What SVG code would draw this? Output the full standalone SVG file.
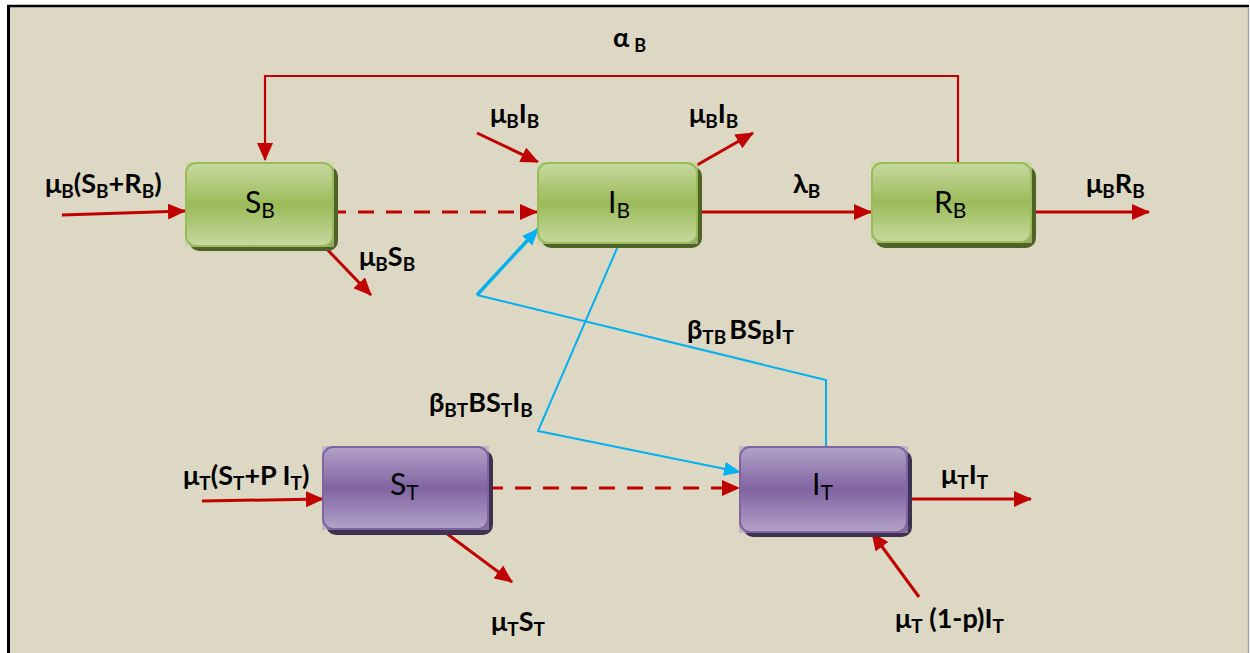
<svg xmlns="http://www.w3.org/2000/svg" width="1250" height="653" viewBox="0 0 1250 653">
<style>
.lbl{font-family:Lato,"Open Sans","Liberation Sans",sans-serif;font-weight:bold;font-size:27px;fill:#000}
.sub{font-size:19px}
.node{font-family:Lato,"Open Sans","Liberation Sans",sans-serif;font-size:30px;fill:#000}
.nsub{font-size:21px}
.red{stroke:#C00000;stroke-width:3;fill:none}
.redthin{stroke:#C00000;stroke-width:2.2;fill:none}
.dash{stroke:#C00000;stroke-width:3;fill:none;stroke-dasharray:16 12}
.blue{stroke:#00B0F0;stroke-width:2;fill:none}
.gbox{fill:url(#gGreen);stroke:#9BBB59;stroke-width:2}
.gsq{fill:url(#gGreen);opacity:0.6}
.gsh{fill:#4F6228}
.pbox{fill:url(#gPurple);stroke:#8064A2;stroke-width:2}
.psq{fill:url(#gPurple);opacity:0.6}
.psh{fill:#3F3151}
</style>
<defs>
<linearGradient id="gGreen" x1="0" y1="0" x2="0" y2="1">
<stop offset="0" stop-color="#C6D9A0"/>
<stop offset="0.5" stop-color="#9BBB59"/>
<stop offset="1" stop-color="#C6D9A0"/>
</linearGradient>
<linearGradient id="gPurple" x1="0" y1="0" x2="0" y2="1">
<stop offset="0" stop-color="#B3A2C7"/>
<stop offset="0.5" stop-color="#8064A2"/>
<stop offset="1" stop-color="#B3A2C7"/>
</linearGradient>
<marker id="ar" markerUnits="userSpaceOnUse" markerWidth="18" markerHeight="16" refX="17" refY="8" orient="auto">
<path d="M0,0 L18,8 L0,16 z" fill="#C00000"/>
</marker>
<marker id="ab" markerUnits="userSpaceOnUse" markerWidth="17" markerHeight="14" refX="16" refY="7" orient="auto">
<path d="M0,0 L17,7 L0,14 z" fill="#00B0F0"/>
</marker>
</defs>

<rect x="0" y="0" width="1250" height="653" fill="#FFFFFF"/>
<rect x="8" y="5" width="1241" height="660" fill="#DDD8C3"/>
<line x1="8.5" y1="5" x2="8.5" y2="653" stroke="#000" stroke-width="3"/>
<line x1="7" y1="6" x2="1249" y2="6" stroke="#000" stroke-width="2.5"/>
<line x1="1248.5" y1="7" x2="1248.5" y2="653" stroke="#A6A6A6" stroke-width="1.5"/>

<g id="connectors">
<polyline class="redthin" points="958,162 958,76 265,76 265,160" marker-end="url(#ar)"/>
<line class="red" x1="62" y1="215" x2="185" y2="211" marker-end="url(#ar)"/>
<line class="dash" x1="330" y1="212" x2="537" y2="212" marker-end="url(#ar)"/>
<line class="red" x1="321" y1="243" x2="371" y2="295" marker-end="url(#ar)"/>
<line class="red" x1="477" y1="133" x2="538" y2="162" marker-end="url(#ar)"/>
<line class="red" x1="697" y1="165" x2="753" y2="133" marker-end="url(#ar)"/>
<line class="red" x1="697" y1="212" x2="871" y2="212" marker-end="url(#ar)"/>
<line class="red" x1="1030" y1="212" x2="1149" y2="212" marker-end="url(#ar)"/>
<line class="red" x1="202" y1="501" x2="323" y2="499" marker-end="url(#ar)"/>
<line class="dash" x1="487" y1="488" x2="739" y2="488" marker-end="url(#ar)"/>
<line class="red" x1="442" y1="530" x2="512" y2="582" marker-end="url(#ar)"/>
<line class="red" x1="903" y1="499" x2="1031" y2="499" marker-end="url(#ar)"/>
<line class="red" x1="919" y1="597" x2="872" y2="533" marker-end="url(#ar)"/>
<polyline class="blue" points="618,246 538,431 740,472" marker-end="url(#ab)"/>
<polyline class="blue" points="826,446 826,380 477,295"/>
<line x1="477" y1="295" x2="538" y2="229" stroke="#00B0F0" stroke-width="3.5" marker-end="url(#ab)"/>
</g>

<g id="node-SB">
<rect class="gsh" x="189" y="166" width="149" height="85" rx="10"/>
<rect class="gsq" x="185" y="162" width="149" height="85"/>
<rect class="gbox" x="186" y="163" width="147" height="83" rx="10"/>
<text class="node" x="245" y="213">S<tspan class="nsub" dy="5">B</tspan></text>
</g>
<g id="node-IB">
<rect class="gsh" x="541" y="166" width="161" height="82" rx="10"/>
<rect class="gsq" x="537" y="162" width="161" height="82"/>
<rect class="gbox" x="538" y="163" width="159" height="80" rx="10"/>
<text class="node" x="608" y="213">I<tspan class="nsub" dy="5">B</tspan></text>
</g>
<g id="node-RB">
<rect class="gsh" x="875" y="166" width="161" height="82" rx="10"/>
<rect class="gsq" x="871" y="162" width="161" height="81"/>
<rect class="gbox" x="872" y="163" width="159" height="79" rx="10"/>
<text class="node" x="934" y="213">R<tspan class="nsub" dy="5">B</tspan></text>
</g>
<g id="node-ST">
<rect class="psh" x="326" y="450" width="167" height="85" rx="10"/>
<rect class="psq" x="322" y="446" width="167" height="84"/>
<rect class="pbox" x="323" y="447" width="165" height="82" rx="10"/>
<text class="node" x="390" y="495">S<tspan class="nsub" dy="5">T</tspan></text>
</g>
<g id="node-IT">
<rect class="psh" x="743" y="450" width="169" height="87" rx="10"/>
<rect class="psq" x="739" y="446" width="169" height="87"/>
<rect class="pbox" x="740" y="447" width="167" height="85" rx="10"/>
<text class="node" x="812" y="495">I<tspan class="nsub" dy="5">T</tspan></text>
</g>

<g id="labels">
<text class="lbl" x="613" y="47" style="font-size:27px">α<tspan class="sub" dx="5" dy="5" style="font-size:18px">B</tspan></text>
<text class="lbl" x="45" y="193">μ<tspan class="sub" dy="5">B</tspan><tspan dy="-5">(S</tspan><tspan class="sub" dy="5">B</tspan><tspan dy="-5">+R</tspan><tspan class="sub" dy="5">B</tspan><tspan dy="-5">)</tspan></text>
<text class="lbl" x="359" y="266">μ<tspan class="sub" dy="5">B</tspan><tspan dy="-5">S</tspan><tspan class="sub" dy="5">B</tspan></text>
<text class="lbl" x="490" y="123">μ<tspan class="sub" dy="5">B</tspan><tspan dy="-5">I</tspan><tspan class="sub" dy="5">B</tspan></text>
<text class="lbl" x="689" y="123">μ<tspan class="sub" dy="5">B</tspan><tspan dy="-5">I</tspan><tspan class="sub" dy="5">B</tspan></text>
<text class="lbl" x="793" y="193">λ<tspan class="sub" dy="5">B</tspan></text>
<text class="lbl" x="1086" y="193">μ<tspan class="sub" dy="5">B</tspan><tspan dy="-5">R</tspan><tspan class="sub" dy="5">B</tspan></text>
<text class="lbl" x="183" y="485">μ<tspan class="sub" dy="5">T</tspan><tspan dy="-5">(S</tspan><tspan class="sub" dy="5">T</tspan><tspan dy="-5">+P I</tspan><tspan class="sub" dy="5">T</tspan><tspan dy="-5">)</tspan></text>
<text class="lbl" x="491" y="631">μ<tspan class="sub" dy="5">T</tspan><tspan dy="-5">S</tspan><tspan class="sub" dy="5">T</tspan></text>
<text class="lbl" x="941" y="484">μ<tspan class="sub" dy="5">T</tspan><tspan dy="-5">I</tspan><tspan class="sub" dy="5">T</tspan></text>
<text class="lbl" x="895" y="628">μ<tspan class="sub" dy="5">T</tspan><tspan dy="-5"> (1-p)I</tspan><tspan class="sub" dy="5">T</tspan></text>
<text class="lbl" x="687" y="339">β<tspan class="sub" dy="5">TB</tspan><tspan dx="3" dy="-5">BS</tspan><tspan class="sub" dy="5">B</tspan><tspan dy="-5">I</tspan><tspan class="sub" dy="5">T</tspan></text>
<text class="lbl" x="429" y="412">β<tspan class="sub" dy="5">BT</tspan><tspan dy="-5">BS</tspan><tspan class="sub" dy="5">T</tspan><tspan dy="-5">I</tspan><tspan class="sub" dy="5">B</tspan></text>
</g>
</svg>
